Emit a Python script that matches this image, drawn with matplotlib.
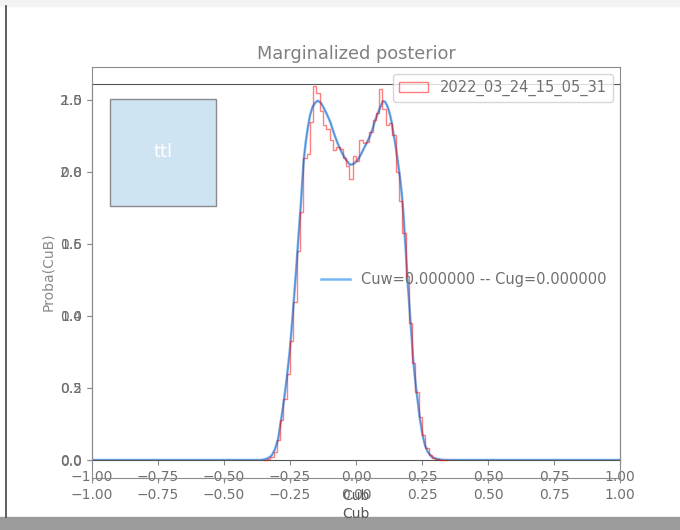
"""Marginalized posterior on Cub: normalized fit curve over the sampled histogram."""

import matplotlib

matplotlib.use("Agg")
import matplotlib.pyplot as plt
import numpy as np
from matplotlib.lines import Line2D
from matplotlib.patches import Rectangle

TEXT = "#707070"

# fitted curve, normalized to a peak of 1
curve_x = [-1.0, -0.36, -0.345, -0.333, -0.320, -0.308, -0.295, -0.284, -0.272,
           -0.261, -0.250, -0.239, -0.227, -0.216, -0.209, -0.203, -0.197, -0.190,
           -0.182, -0.174, -0.165, -0.155, -0.146, -0.134, -0.125, -0.112, -0.098,
           -0.089, -0.080, -0.067, -0.053, -0.038, -0.023, -0.010, 0.004, 0.016,
           0.027, 0.040, 0.053, 0.063, 0.072, 0.082, 0.091, 0.102, 0.110, 0.117,
           0.123, 0.129, 0.135, 0.140, 0.148, 0.155, 0.161, 0.167, 0.174, 0.180,
           0.186, 0.192, 0.197, 0.205, 0.211, 0.216, 0.223, 0.231, 0.242, 0.252,
           0.261, 0.272, 0.288, 0.305, 0.322, 0.337, 1.0]
curve_y = [0.0, 0.0, 0.002, 0.005, 0.012, 0.028, 0.058, 0.11, 0.17,
           0.235, 0.31, 0.41, 0.525, 0.64, 0.71, 0.78, 0.84, 0.885,
           0.925, 0.958, 0.98, 0.992, 0.998, 0.993, 0.982, 0.963, 0.94,
           0.92, 0.90, 0.875, 0.853, 0.834, 0.82, 0.822, 0.831, 0.845,
           0.861, 0.88, 0.90, 0.92, 0.942, 0.962, 0.978, 0.997, 0.995, 0.986,
           0.974, 0.958, 0.938, 0.914, 0.882, 0.847, 0.815, 0.783, 0.735, 0.68,
           0.61, 0.54, 0.48, 0.40, 0.34, 0.285, 0.23, 0.18, 0.115, 0.07,
           0.042, 0.022, 0.008, 0.003, 0.001, 0.0, 0.0]

# sampled Cub, density histogram (bin width 0.0125 on [-0.35, 0.35])
bin_edges = np.arange(-0.35, 0.35 + 1e-9, 0.0125)
density = [0.0, 0.01, 0.02, 0.055, 0.14, 0.275, 0.425, 0.6, 0.825, 1.1,
           1.45, 1.725, 2.1, 2.125, 2.35, 2.6, 2.55, 2.425, 2.325, 2.3,
           2.225, 2.15, 2.175, 2.16, 2.1, 2.04, 1.95, 2.11, 2.075, 2.225,
           2.2, 2.21, 2.275, 2.36, 2.41, 2.575, 2.44, 2.325, 2.34, 2.26,
           2.0, 1.8, 1.575, 1.275, 0.95, 0.675, 0.475, 0.3, 0.175, 0.08,
           0.035, 0.015, 0.008, 0.003, 0.0, 0.0]
bin_centers = 0.5 * (bin_edges[:-1] + bin_edges[1:])

run_label = "2022_03_24_15_05_31"
fit_label = "Cuw=0.000000 -- Cug=0.000000"

plt.rcParams["font.family"] = "DejaVu Sans"

fig = plt.figure(figsize=(6.8, 5.3), dpi=100)
W, H = 680, 530

# notebook-style frame around the output
fig.add_artist(Rectangle((0, 0), 1, 13 / H, transform=fig.transFigure,
                         color="#9b9b9b", zorder=0))
fig.add_artist(Rectangle((0, 1 - 6 / H), 1, 6 / H, transform=fig.transFigure,
                         color="#f3f3f3", zorder=0))
fig.add_artist(Line2D([6 / W, 6 / W], [13 / H, 1 - 6 / H], transform=fig.transFigure,
                      color="#444444", lw=1.2))

ax_a = fig.add_axes([92 / W, 70 / H, 528 / W, 376 / H])
ax_b = fig.add_axes([92 / W, 52 / H, 528 / W, 411 / H])
ax_b.patch.set_alpha(0)

# normalized curve
ax_a.plot(curve_x, curve_y, color="#5aabf2", alpha=0.85, lw=1.8, label=fit_label)
ax_a.plot(curve_x, curve_y, color="#2a2a80", alpha=0.3, lw=0.8)
ax_a.set_xlim(-1, 1)
ax_a.set_ylim(0, 1.0444)
ax_a.set_xticks(np.arange(-1, 1.01, 0.25))
ax_a.set_xlabel("Cub", color="#555555")
ax_a.set_ylabel("Proba(CuB)", color="#8a8a8a")
ax_a.legend(loc="center right", bbox_to_anchor=(1.0, 0.479), frameon=False,
            fontsize=10.5, labelcolor=TEXT)

ax_a.add_patch(Rectangle((0.034, 0.676), 0.201, 0.284, transform=ax_a.transAxes,
                         facecolor="#cfe4f3", edgecolor="#8a8a8a", lw=1))
ax_a.text(0.1345, 0.818, "ttl", transform=ax_a.transAxes, ha="center", va="center",
          color="white", fontsize=13)

# sampled histogram
ax_b.hist(bin_centers, bins=bin_edges, weights=density, histtype="step",
          color="red", alpha=0.5, lw=1, label=run_label)
ax_b.set_xlim(-1, 1)
ax_b.set_ylim(-0.125, 2.729)
ax_b.set_xticks(np.arange(-1, 1.01, 0.25))
ax_b.set_yticks(np.arange(0, 2.51, 0.5))
ax_b.set_xlabel("Cub", color="#555555")
ax_b.set_title("Marginalized posterior", color="#808080", fontsize=12.8)
ax_b.legend(loc="upper right", fontsize=10.5, labelcolor=TEXT)

for ax, spine_color in ((ax_a, "#555555"), (ax_b, "#8c8c8c")):
    for sp in ax.spines.values():
        sp.set_color(spine_color)
    ax.tick_params(colors="#8c8c8c", labelcolor=TEXT, labelsize=10)

fig.savefig("out.png", dpi=100)
